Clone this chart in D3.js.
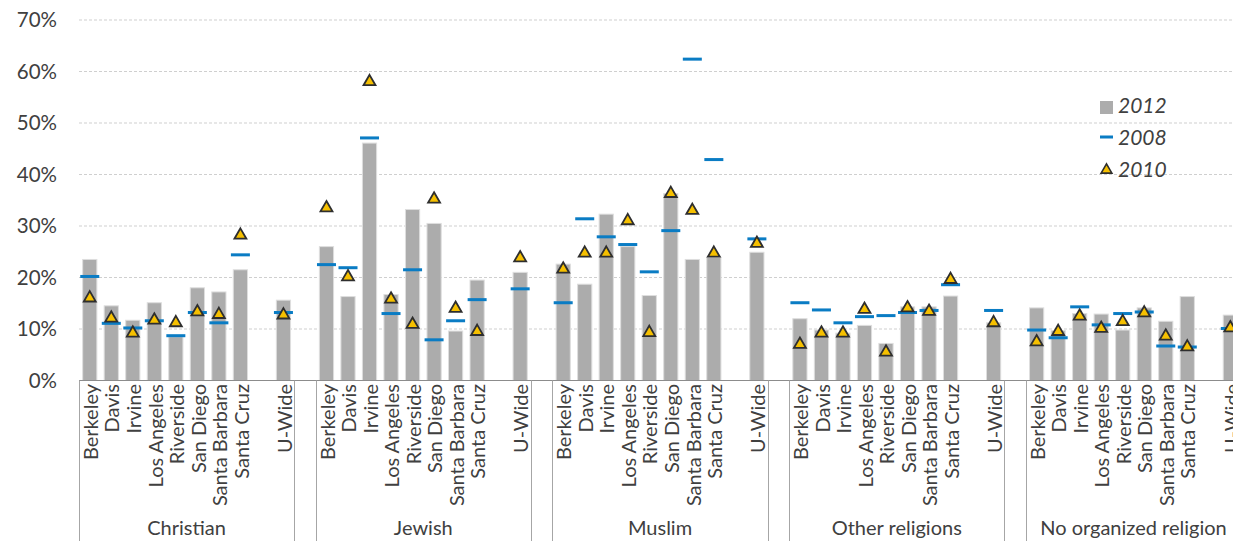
<!DOCTYPE html>
<html>
<head>
<meta charset="utf-8">
<script src="https://cdn.jsdelivr.net/npm/d3@7"></script>
<style>
  html, body { margin: 0; padding: 0; background: #fff; overflow: hidden; }
  svg { display: block; }
  text { font-family: Lato, "Noto Sans", sans-serif; fill: #404040; }
</style>
</head>
<body>
<svg id="chart" width="1233" height="541"></svg>
<script>
// ---------- DATA ----------
const groups = ["Christian", "Jewish", "Muslim", "Other religions", "No organized religion"];
const campuses = ["Berkeley", "Davis", "Irvine", "Los Angeles", "Riverside", "San Diego", "Santa Barbara", "Santa Cruz", "", "U-Wide"];
const yTicks = [0, 10, 20, 30, 40, 50, 60, 70];
const seriesNames = ["2012", "2008", "2010"];

// values per group, one per campus (null for the blank slot)
const values2012 = [
  [23.5, 14.5, 11.7, 15.1, 8.5, 18.0, 17.2, 21.5, null, 15.6],
  [26.0, 16.3, 46.1, 16.7, 33.2, 30.5, 9.6, 19.5, null, 21.0],
  [22.6, 18.7, 32.3, 26.0, 16.5, 36.3, 23.5, 23.9, null, 24.9],
  [12.0, 9.8, 9.2, 10.7, 7.2, 14.3, 14.3, 16.4, null, 11.2],
  [14.1, 9.7, 13.0, 12.9, 9.8, 14.1, 11.5, 16.3, null, 12.7]
];
const values2008 = [
  [20.2, 11.1, 10.2, 11.6, 8.7, 13.2, 11.2, 24.4, null, 13.2],
  [22.5, 21.9, 47.1, 13.0, 21.5, 7.9, 11.6, 15.7, null, 17.8],
  [15.1, 31.4, 27.9, 26.4, 21.1, 29.1, 62.4, 42.9, null, 27.5],
  [15.1, 13.7, 11.2, 12.4, 12.6, 13.2, 13.6, 18.6, null, 13.6],
  [9.8, 8.3, 14.3, 10.8, 13.0, 13.3, 6.7, 6.5, null, 10.1]
];
const values2010 = [
  [16.2, 12.3, 9.4, 11.9, 11.4, 13.5, 13.0, 28.4, null, 12.9],
  [33.7, 20.3, 58.2, 16.0, 11.1, 35.4, 14.2, 9.7, null, 24.0],
  [21.8, 24.9, 24.9, 31.2, 9.5, 36.5, 33.2, 24.9, null, 26.8],
  [7.2, 9.4, 9.4, 14.0, 5.7, 14.3, 13.6, 19.8, null, 11.4],
  [7.7, 9.7, 12.7, 10.3, 11.6, 13.3, 8.8, 6.7, null, 10.4]
];

// ---------- LAYOUT ----------
const svg = d3.select("#chart");
const plotLeft = 79, plotTop = 20, plotBottom = 380.5;
const slotW = 21.52;

// build slot list: each group of 10 slots, with a blank spacer slot between groups
const slots = [];
groups.forEach((g, gi) => {
  campuses.forEach((c, ci) => slots.push({ key: gi + "-" + ci, gi, ci, label: c }));
  if (gi < groups.length - 1) slots.push({ key: "gap-" + gi, gi: null, ci: null, label: "" });
});

const x = d3.scaleBand()
  .domain(slots.map(s => s.key))
  .range([plotLeft, plotLeft + slots.length * slotW])
  .paddingInner(0).paddingOuter(0);

const y = d3.scaleLinear().domain([0, 70]).range([plotBottom, plotTop]);

// gridlines
svg.append("g").selectAll("line")
  .data(yTicks.filter(d => d > 0))
  .join("line")
  .attr("x1", plotLeft).attr("x2", 1233)
  .attr("y1", d => y(d)).attr("y2", d => y(d))
  .attr("stroke", "#cfcfcf").attr("stroke-width", 1)
  .attr("stroke-dasharray", "3,2");

// y axis labels
const yAxis = svg.append("g")
  .attr("transform", `translate(${plotLeft - 22},0)`)
  .call(d3.axisLeft(y).tickValues(yTicks).tickFormat(d => d + "%").tickSize(0).tickPadding(0));
yAxis.select(".domain").remove();
yAxis.selectAll("text")
  .style("font-family", "Lato, 'Noto Sans', sans-serif")
  .style("font-size", "20.5px")
  .attr("fill", "#404040");

// flatten data
const points = [];
groups.forEach((g, gi) => {
  campuses.forEach((c, ci) => {
    if (values2012[gi][ci] == null) return;
    points.push({ key: gi + "-" + ci, v12: values2012[gi][ci], v08: values2008[gi][ci], v10: values2010[gi][ci] });
  });
});

const barW = x.bandwidth() * 0.66;
// bars 2012
svg.append("g").selectAll("rect")
  .data(points)
  .join("rect")
  .attr("x", d => x(d.key) + (x.bandwidth() - barW) / 2)
  .attr("y", d => y(d.v12))
  .attr("width", barW)
  .attr("height", d => y(0) - y(d.v12))
  .attr("fill", "#acacac")
  .attr("stroke", "#dedede")
  .attr("stroke-width", 1);

// x-axis baseline
svg.append("line")
  .attr("x1", plotLeft).attr("x2", 1233)
  .attr("y1", y(0)).attr("y2", y(0))
  .attr("stroke", "#8c8c8c").attr("stroke-width", 1.2);

// 2008 dashes
const dashW = 19;
svg.append("g").selectAll("rect")
  .data(points)
  .join("rect")
  .attr("x", d => x(d.key) + x.bandwidth() / 2 - dashW / 2)
  .attr("y", d => y(d.v08) - 1.5)
  .attr("width", dashW)
  .attr("height", 3)
  .attr("fill", "#0a7cc4");

// 2010 triangles
const tri = d3.symbol().type(d3.symbolTriangle).size(62);
svg.append("g").selectAll("path")
  .data(points)
  .join("path")
  .attr("d", tri)
  .attr("transform", d => `translate(${x(d.key) + x.bandwidth() / 2},${y(d.v10) + 1})`)
  .attr("fill", "#f6c000")
  .attr("stroke", "#2e2e2e")
  .attr("stroke-width", 1.8)
  .attr("stroke-linejoin", "miter");

// category labels (rotated)
svg.append("g").selectAll("text")
  .data(slots.filter(s => s.label))
  .join("text")
  .attr("transform", d => `translate(${x(d.key) + x.bandwidth() / 2 + 1},384) rotate(-90)`)
  .attr("dy", "0.36em")
  .attr("text-anchor", "end")
  .style("font-size", "20px")
  .text(d => d.label);

// group separators
const sepXs = [];
groups.forEach((g, gi) => {
  const first = x(gi + "-0");
  const last = x(gi + "-" + (campuses.length - 1)) + x.bandwidth();
  sepXs.push(first, last);
});
svg.append("g").selectAll("line")
  .data(sepXs)
  .join("line")
  .attr("x1", d => Math.round(d) + 0.5).attr("x2", d => Math.round(d) + 0.5)
  .attr("y1", y(0)).attr("y2", 541)
  .attr("stroke", "#a6a6a6").attr("stroke-width", 1);

// group labels
svg.append("g").selectAll("text")
  .data(groups)
  .join("text")
  .attr("x", (g, gi) => (x(gi + "-0") + x(gi + "-" + (campuses.length - 1)) + x.bandwidth()) / 2)
  .attr("y", 535)
  .attr("text-anchor", "middle")
  .style("font-size", "20px")
  .text(d => d);

// legend
const lg = svg.append("g").attr("transform", "translate(1100,0)");
lg.append("rect").attr("x", 0).attr("y", 101).attr("width", 13).attr("height", 13).attr("fill", "#acacac");
lg.append("rect").attr("x", 0).attr("y", 135.5).attr("width", 13).attr("height", 3).attr("fill", "#0a7cc4");
lg.append("path").attr("d", d3.symbol().type(d3.symbolTriangle).size(50))
  .attr("transform", "translate(6.5,170)")
  .attr("fill", "#f6c000").attr("stroke", "#2e2e2e").attr("stroke-width", 1.6);
lg.selectAll("text.lg")
  .data(seriesNames)
  .join("text")
  .attr("class", "lg")
  .attr("x", 18)
  .attr("y", (d, i) => 113 + i * 32)
  .style("font-size", "21px")
  .style("font-style", "italic")
  .attr("fill", "#303030")
  .text(d => d);
</script>
</body>
</html>
